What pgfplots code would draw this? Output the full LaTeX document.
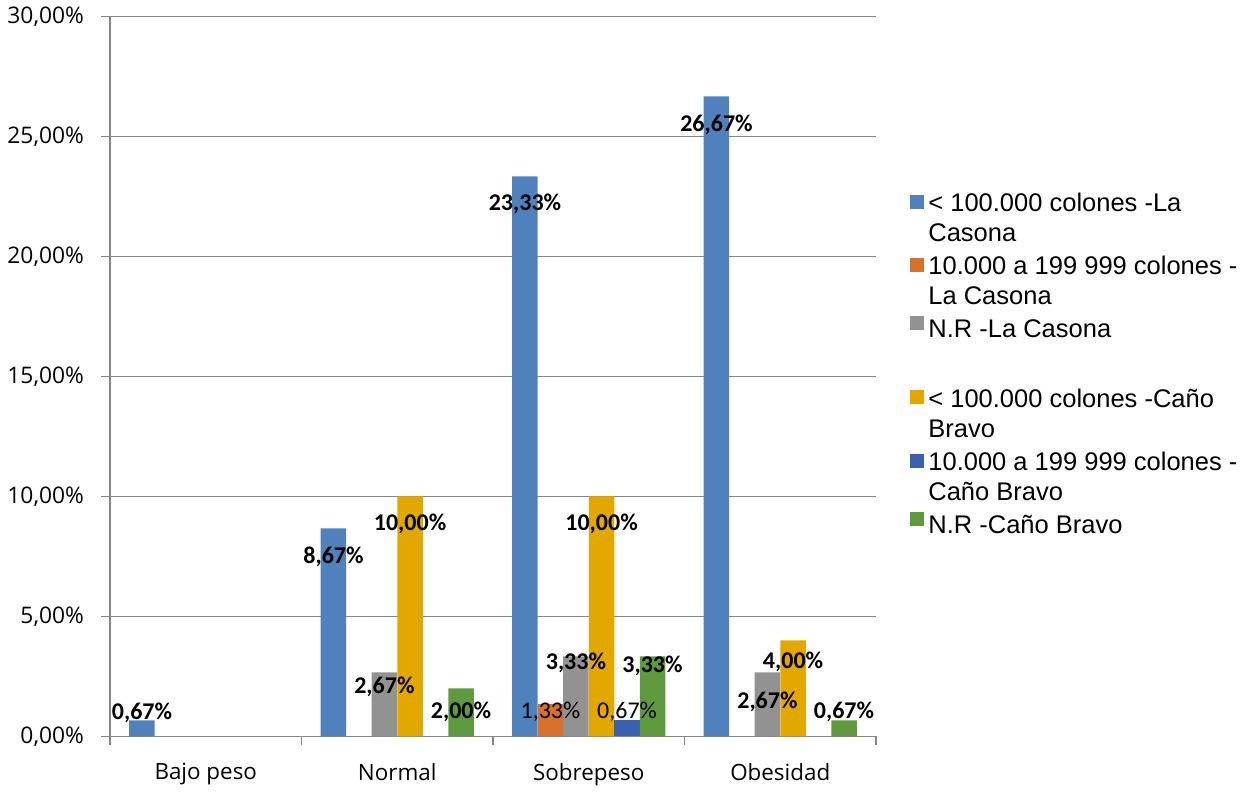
\documentclass[border=0pt]{standalone}
\usepackage{fontspec}
\setmainfont{Open Sans}
\newfontfamily\lblfont{Carlito}
\newfontfamily\legfont{Liberation Sans}
\usepackage{pgfplots}
\pgfplotsset{compat=1.18}
\usepackage{pgfplotstable}

\definecolor{cBlue}{RGB}{79,129,189}
\definecolor{cOrange}{RGB}{214,112,42}
\definecolor{cGray}{RGB}{146,146,146}
\definecolor{cYellow}{RGB}{227,168,0}
\definecolor{cDBlue}{RGB}{58,96,176}
\definecolor{cGreen}{RGB}{96,154,62}
\definecolor{cGrid}{RGB}{134,134,134}

% x = category index, y = value (%), off = label position relative to bar top (%)
\pgfplotstableread{
x y off
0 0.67 0.33
1 8.67 -1.17
2 23.33 -1.16
3 26.67 -1.17
}\tA
\pgfplotstableread{
x y off
2 1.33 -0.29
}\tB
\pgfplotstableread{
x y off
1 2.67 -0.59
2 3.33 -0.25
3 2.67 -1.21
}\tC
\pgfplotstableread{
x y off
1 10.00 -1.125
2 10.00 -1.125
3 4.00 -0.875
}\tD
\pgfplotstableread{
x y off
2 0.67 0.37
}\tE
\pgfplotstableread{
x y off
1 2.00 -0.96
2 3.33 -0.37
3 0.67 0.37
}\tF

\pgfplotsset{
  sqlegend/.style={legend image code/.code={\fill[##1,draw=none] (0pt,0pt) rectangle (7pt,7pt);}},
  sqlegendml/.style={legend image code/.code={\fill[##1,draw=none] (0pt,5pt) rectangle (7pt,12pt);}},
  mybar/.style={ybar, draw=none, bar width=0.133, bar shift=#1, sqlegend,
    visualization depends on={\thisrow{off} \as \off},
    nodes near coords={\pgfmathprintnumber[fixed,fixed zerofill,precision=2,use comma,assume math mode=true]{\pgfplotspointmeta}\%},
    every node near coord/.append style={anchor=center, xshift={#1*95.75pt}, yshift={\off*12pt}, text=black, inner sep=0pt,
      font=\lblfont\bfseries\fontsize{12}{14}\selectfont}},
  lightlbl/.style={every node near coord/.append style={font=\lblfont\fontsize{12}{14}\selectfont}},
}

\begin{document}
\begin{tikzpicture}
\begin{axis}[
  at={(0pt,0pt)}, anchor=south west,
  scale only axis, width=383pt, height=360pt,
  xmin=-0.5, xmax=3.5, ymin=0, ymax=30,
  axis x line*=bottom, axis y line*=left,
  axis line style={draw=cGrid, line width=0.75pt, -},
  tick align=outside, major tick length=4.5pt,
  tick style={draw=cGrid, line width=0.75pt},
  ytick={0,5,...,30},
  yticklabel={\pgfmathprintnumber[fixed,fixed zerofill,precision=2,use comma,assume math mode=true]{\tick}\%},
  yticklabel style={font=\fontsize{11.4}{13}\selectfont, text=black, xshift=-5pt},
  ymajorgrids, grid style={draw=cGrid, line width=0.75pt},
  xtick={-0.5,0.5,1.5,2.5,3.5}, xticklabels={},
  extra x ticks={0,1,2,3},
  extra x tick labels={Bajo peso,Normal,Sobrepeso,Obesidad},
  extra x tick style={major tick length=0pt, tick style={draw=none},
    xticklabel style={font=\fontsize{11.2}{13}\selectfont, text=black, yshift=-10pt}},
  legend cell align=left,
  legend style={draw=none, fill=none, at={(1,1)}, anchor=north west, xshift=14pt, yshift=-84pt,
    font=\legfont\fontsize{12.75}{15}\selectfont, cells={align=left},
    row sep=2pt},
]
\addplot[mybar=-0.333, fill=cBlue, sqlegendml] table[x=x,y=y] {\tA};
\addlegendentry{< 100.000 colones -La\\Casona}
\addplot[mybar=-0.2, fill=cOrange, lightlbl, sqlegendml] table[x=x,y=y] {\tB};
\addlegendentry{10.000 a 199 999 colones -\\La Casona}
\addplot[mybar=-0.067, fill=cGray] table[x=x,y=y] {\tC};
\addlegendentry{N.R -La Casona}
\addlegendimage{empty legend}
\addlegendentry{\strut}
\addplot[mybar=0.067, fill=cYellow, sqlegendml] table[x=x,y=y] {\tD};
\addlegendentry{< 100.000 colones -Caño\\Bravo}
\addplot[mybar=0.2, fill=cDBlue, lightlbl, sqlegendml] table[x=x,y=y] {\tE};
\addlegendentry{10.000 a 199 999 colones -\\Caño Bravo}
\addplot[mybar=0.333, fill=cGreen] table[x=x,y=y] {\tF};
\addlegendentry{N.R -Caño Bravo}
\end{axis}
\useasboundingbox (-55pt,-24.5pt) rectangle (570.5pt,368pt);
\end{tikzpicture}
\end{document}
